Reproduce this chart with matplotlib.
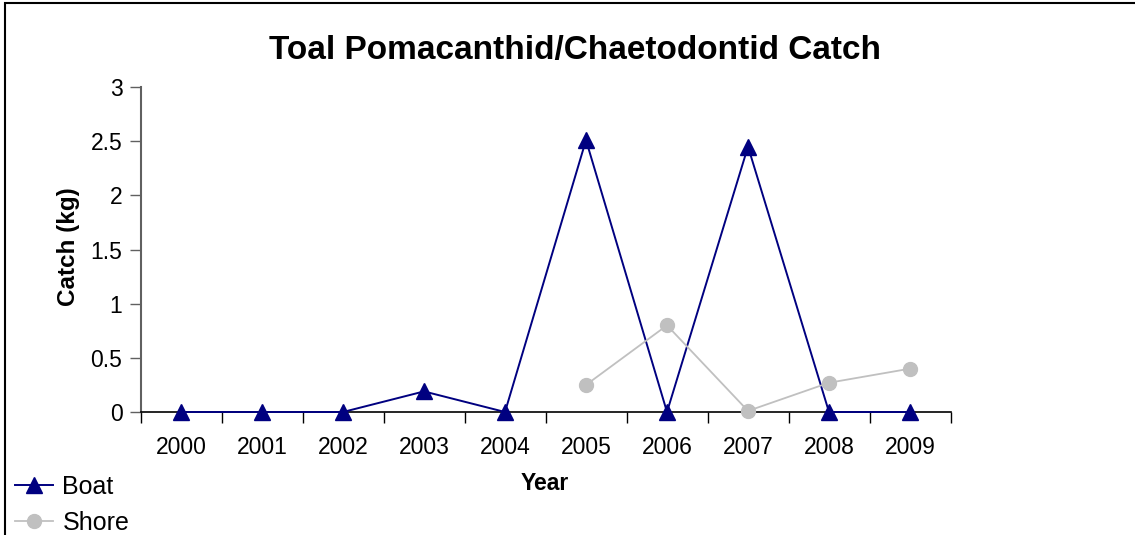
import matplotlib
matplotlib.use("Agg")
import matplotlib.pyplot as plt
import numpy as np
from matplotlib.patches import Rectangle

years = ["2000", "2001", "2002", "2003", "2004", "2005", "2006", "2007", "2008", "2009"]
boat = [0, 0, 0, 0.19, 0, 2.51, 0, 2.45, 0, 0]
shore = [np.nan, np.nan, np.nan, np.nan, np.nan, 0.25, 0.80, 0.01, 0.27, 0.40]
yticks = [0, 0.5, 1, 1.5, 2, 2.5, 3]
ytick_labels = ["0", "0.5", "1", "1.5", "2", "2.5", "3"]

plt.rcParams['font.family'] = ['Liberation Sans', 'DejaVu Sans']

W, H = 1135, 535
fig = plt.figure(figsize=(W / 100, H / 100), dpi=100)
ax = fig.add_axes([140.5 / W, 1 - 412 / H, (950.5 - 140.5) / W, (412 - 87) / H])

x = np.arange(len(years))
l1, = ax.plot(x, boat, color="#000080", lw=1.4, marker="^", markersize=11,
              markerfacecolor="#000080", markeredgecolor="#000080", label="Boat",
              zorder=3, clip_on=False)
l2, = ax.plot(x, shore, color="#c0c0c0", lw=1.3, marker="o", markersize=10,
              markerfacecolor="#c0c0c0", markeredgecolor="#c0c0c0", label="Shore",
              zorder=4, clip_on=False)

ax.set_xlim(-0.5, len(years) - 0.5)
ax.set_ylim(0, 3)
ax.set_yticks(yticks)
ax.set_yticklabels(ytick_labels)
ax.set_xticks(np.arange(len(years) + 1) - 0.5)
ax.set_xticklabels([])
ax.set_xticks(x, minor=True)
ax.set_xticklabels(years, minor=True)
ax.tick_params(axis="x", which="major", direction="out", length=8, width=1, color="black")
ax.tick_params(axis="x", which="minor", length=0, labelsize=16.5, pad=17)
ax.tick_params(axis="y", direction="out", length=8, width=1, color="#606060", labelsize=16.5, pad=5)

for s in ["top", "right"]:
    ax.spines[s].set_visible(False)
ax.spines["left"].set_color("#606060")
ax.spines["left"].set_linewidth(1.5)
ax.spines["bottom"].set_color("black")
ax.spines["bottom"].set_linewidth(1.2)

fig.text(575 / W, 1 - 50 / H, "Toal Pomacanthid/Chaetodontid Catch", ha="center", va="center",
         fontsize=24, fontweight="bold")
fig.text(68 / W, 1 - 247 / H, "Catch (kg)", ha="center", va="center", rotation=90,
         fontsize=17.5, fontweight="bold")
fig.text(545 / W, 1 - 483 / H, "Year", ha="center", va="center", fontsize=16.5, fontweight="bold")

leg = fig.legend(handles=[l1, l2], loc="upper left", bbox_to_anchor=(15 / W, 1 - 474.5 / H),
                 frameon=False, fontsize=18, handlelength=1.5, handletextpad=0.4,
                 labelspacing=0.5, borderpad=0, borderaxespad=0)

fig.add_artist(Rectangle((5 / W, -0.1), 1.2, 1 - 2.5 / H + 0.1, transform=fig.transFigure,
                         fill=False, edgecolor="black", lw=1.5))

fig.savefig("out.png", dpi=100)
